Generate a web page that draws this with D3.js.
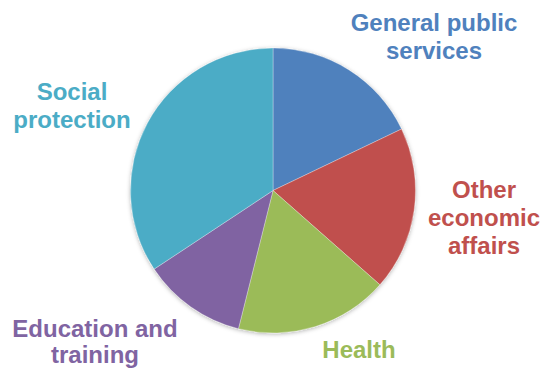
<!DOCTYPE html>
<html>
<head>
<meta charset="utf-8">
<script src="https://cdn.jsdelivr.net/npm/d3@7"></script>
<style>
  body { margin: 0; background: #fff; }
  text { font-family: "Liberation Sans", Arial, sans-serif; font-weight: bold; }
</style>
</head>
<body>
<div id="chart"></div>
<script>
const width = 542;
const height = 369;

const categories = ["General public services", "Other economic affairs", "Health", "Education and training", "Social protection"];
const shares = [17.9, 18.6, 17.4, 11.8, 34.3];
const colors = ["#4F81BD", "#C0504D", "#9BBB59", "#8064A2", "#4BACC6"];
// label text split into lines, with where each block sits
const labelLines = [["General public", "services"], ["Other", "economic", "affairs"], ["Health"], ["Education and", "training"], ["Social", "protection"]];
const labelPos = [[434, 31], [484, 198], [359, 358], [95, 337], [72, 100]];

const cx = 273, cy = 190.5, radius = 142.5;

const svg = d3.select("#chart")
  .append("svg")
  .attr("width", width)
  .attr("height", height);

const defs = svg.append("defs");
const shadow = defs.append("filter")
  .attr("id", "shadow")
  .attr("x", "-10%").attr("y", "-10%")
  .attr("width", "120%").attr("height", "120%");
shadow.append("feDropShadow")
  .attr("dx", 0).attr("dy", 1)
  .attr("stdDeviation", 2.2)
  .attr("flood-color", "#000")
  .attr("flood-opacity", 0.3);

const pie = d3.pie().sort(null).value(d => d);
const arc = d3.arc().innerRadius(0).outerRadius(radius);

const g = svg.append("g")
  .attr("transform", `translate(${cx},${cy})`)
  .attr("filter", "url(#shadow)");

g.selectAll(".slice")
  .data(pie(shares))
  .join("path")
  .attr("class", "slice")
  .attr("d", arc)
  .attr("fill", (d, i) => colors[i])
  .attr("stroke", "#fff")
  .attr("stroke-width", 0.5)
  .attr("stroke-opacity", 0.6);

const labels = svg.selectAll(".label")
  .data(categories)
  .join("text")
  .attr("class", "label")
  .attr("x", (d, i) => labelPos[i][0])
  .attr("y", (d, i) => labelPos[i][1])
  .attr("text-anchor", "middle")
  .attr("font-size", 24)
  .attr("fill", (d, i) => colors[i]);

labels.each(function (d, i) {
  d3.select(this).selectAll("tspan")
    .data(labelLines[i])
    .join("tspan")
    .attr("x", labelPos[i][0])
    .attr("dy", (t, j) => j === 0 ? 0 : (i === 3 ? 26 : 28))
    .text(t => t);
});
</script>
</body>
</html>
